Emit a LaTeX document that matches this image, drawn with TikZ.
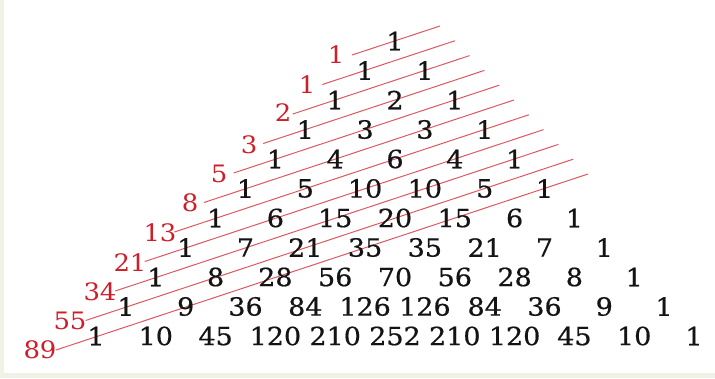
\documentclass[tikz,border=0pt]{standalone}
\usepackage{fontspec}
\setmainfont{DejaVu Serif}[FakeStretch=1.08]
\newfontfamily\entryfont{DejaVu Serif}[FakeStretch=1.08,FakeBold=0.6]
\definecolor{framecol}{RGB}{239,242,228}
\definecolor{fibred}{RGB}{205,30,42}
\definecolor{linered}{RGB}{222,88,98}
\definecolor{numblack}{RGB}{20,20,20}
\begin{document}
\begin{tikzpicture}[x=1pt,y=-1pt,
  entry/.style={font=\entryfont\fontsize{25}{25}\selectfont, text=numblack, inner sep=0pt},
  fib/.style={font=\fontsize{24}{24}\selectfont, text=fibred, inner sep=0pt},
  diag/.style={draw=linered, line width=1pt}]
\useasboundingbox (0,0) rectangle (715,378);
\fill[framecol] (0,0) rectangle (715,378);
\fill[white] (4,0) rectangle (715,373);
% diagonal lines
\foreach \k in {0,...,10}{
  \coordinate (s\k) at ({352-29.6*\k},{55+29.5*\k});
  \coordinate (e\k) at ({440+14.8*\k},{26+14.8*\k});
  \draw[diag] (s\k) -- (e\k);
}
% Fibonacci labels
\foreach \lab/\x/\y [count=\k from 0] in {1/336/55,1/307/85,2/283/113,3/249/145,5/219/174,8/190/203,13/160/233,21/130/263,34/100/292,55/70/321,89/40/350}{
  \node[fib] (f\k) at (\x,\y) {\lab};
}
% Pascal triangle
\foreach \row [count=\n from 0] in {{1},{1,1},{1,2,1},{1,3,3,1},{1,4,6,4,1},{1,5,10,10,5,1},{1,6,15,20,15,6,1},{1,7,21,35,35,21,7,1},{1,8,28,56,70,56,28,8,1},{1,9,36,84,126,126,84,36,9,1},{1,10,45,120,210,252,210,120,45,10,1}}{
  \foreach \v [count=\j from 0] in \row {
    \node[entry] (c-\n-\j) at ({395-29.9*\n+59.8*\j},{41+29.5*\n}) {\v};
  }
}
\end{tikzpicture}
\end{document}
